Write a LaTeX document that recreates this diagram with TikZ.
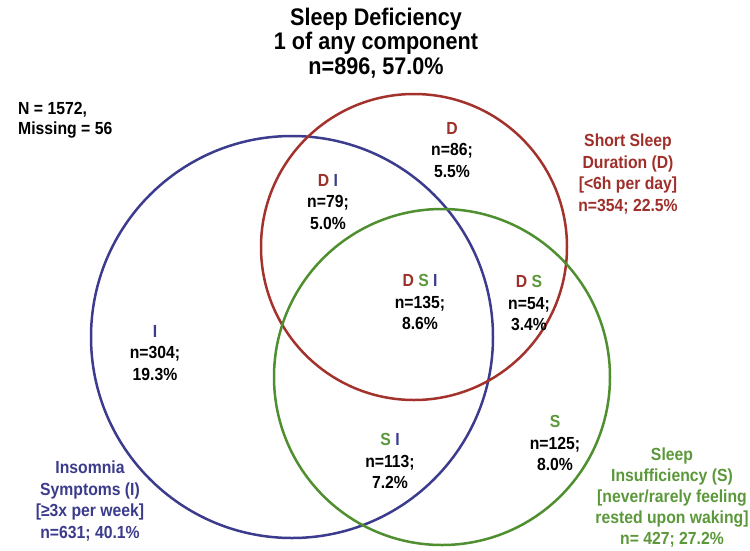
\documentclass[tikz,border=0pt]{standalone}
\usepackage{fontspec}
\setmainfont{Liberation Sans}[FakeStretch=0.9]
\definecolor{cred}{HTML}{A3322C}
\definecolor{cblue}{HTML}{3C3C8E}
\definecolor{cgreen}{HTML}{4F8F2F}
\definecolor{tred}{HTML}{9E2F2A}
\definecolor{tblue}{HTML}{3B3B8C}
\definecolor{tgreen}{HTML}{5B983A}
\begin{document}
\begin{tikzpicture}[x=1pt,y=-1pt,
  lbl/.style={font=\fontsize{17.5}{21.5}\selectfont\bfseries, align=center, inner sep=0pt},
  ttl/.style={font=\fontsize{24}{24.5}\selectfont\bfseries, align=center, inner sep=0pt},
  ring/.style={line width=2.5pt}]
\useasboundingbox (0,0) rectangle (750,550);
\draw[ring,cblue] (292,337) circle[radius=201];
\draw[ring,cred] (414,247) circle[radius=153];
\draw[ring,cgreen] (442,377) circle[radius=168];

\node[ttl] (title) at (376,43) {Sleep Deficiency\\1 of any component\\n=896, 57.0\%};
\node[lbl, anchor=west, align=left, font=\fontsize{17.5}{20}\selectfont\bfseries] (tot) at (18,120) {N = 1572,\\Missing = 56};

\node[lbl] (d) at (452,150) {\textcolor{tred}{D}\\n=86;\\5.5\%};
\node[lbl] (di) at (328,202) {\textcolor{tred}{D} \textcolor{tblue}{I}\\n=79;\\5.0\%};
\node[lbl] (dsi) at (420,302) {\textcolor{tred}{D} \textcolor{tgreen}{S} \textcolor{tblue}{I}\\n=135;\\8.6\%};
\node[lbl] (ds) at (529,303) {\textcolor{tred}{D} \textcolor{tgreen}{S}\\n=54;\\3.4\%};
\node[lbl] (i) at (155,353) {\textcolor{tblue}{I}\\n=304;\\19.3\%};
\node[lbl] (si) at (390,461) {\textcolor{tgreen}{S} \textcolor{tblue}{I}\\n=113;\\7.2\%};
\node[lbl] (s) at (555,443) {\textcolor{tgreen}{S}\\n=125;\\8.0\%};

\node[lbl, text=tred] (dlab) at (628,174) {Short Sleep\\Duration (D)\\{[<6h per day]}\\n=354; 22.5\%};
\node[lbl, text=tblue] (ilab) at (90,501) {Insomnia\\Symptoms (I)\\{[≥3x per week]}\\n=631; 40.1\%};
\node[lbl, text=tgreen, font=\fontsize{17.5}{21}\selectfont\bfseries] (slab) at (672,498) {Sleep\\Insufficiency (S)\\{[never/rarely feeling}\\rested upon waking]\\n= 427; 27.2\%};
\end{tikzpicture}
\end{document}
